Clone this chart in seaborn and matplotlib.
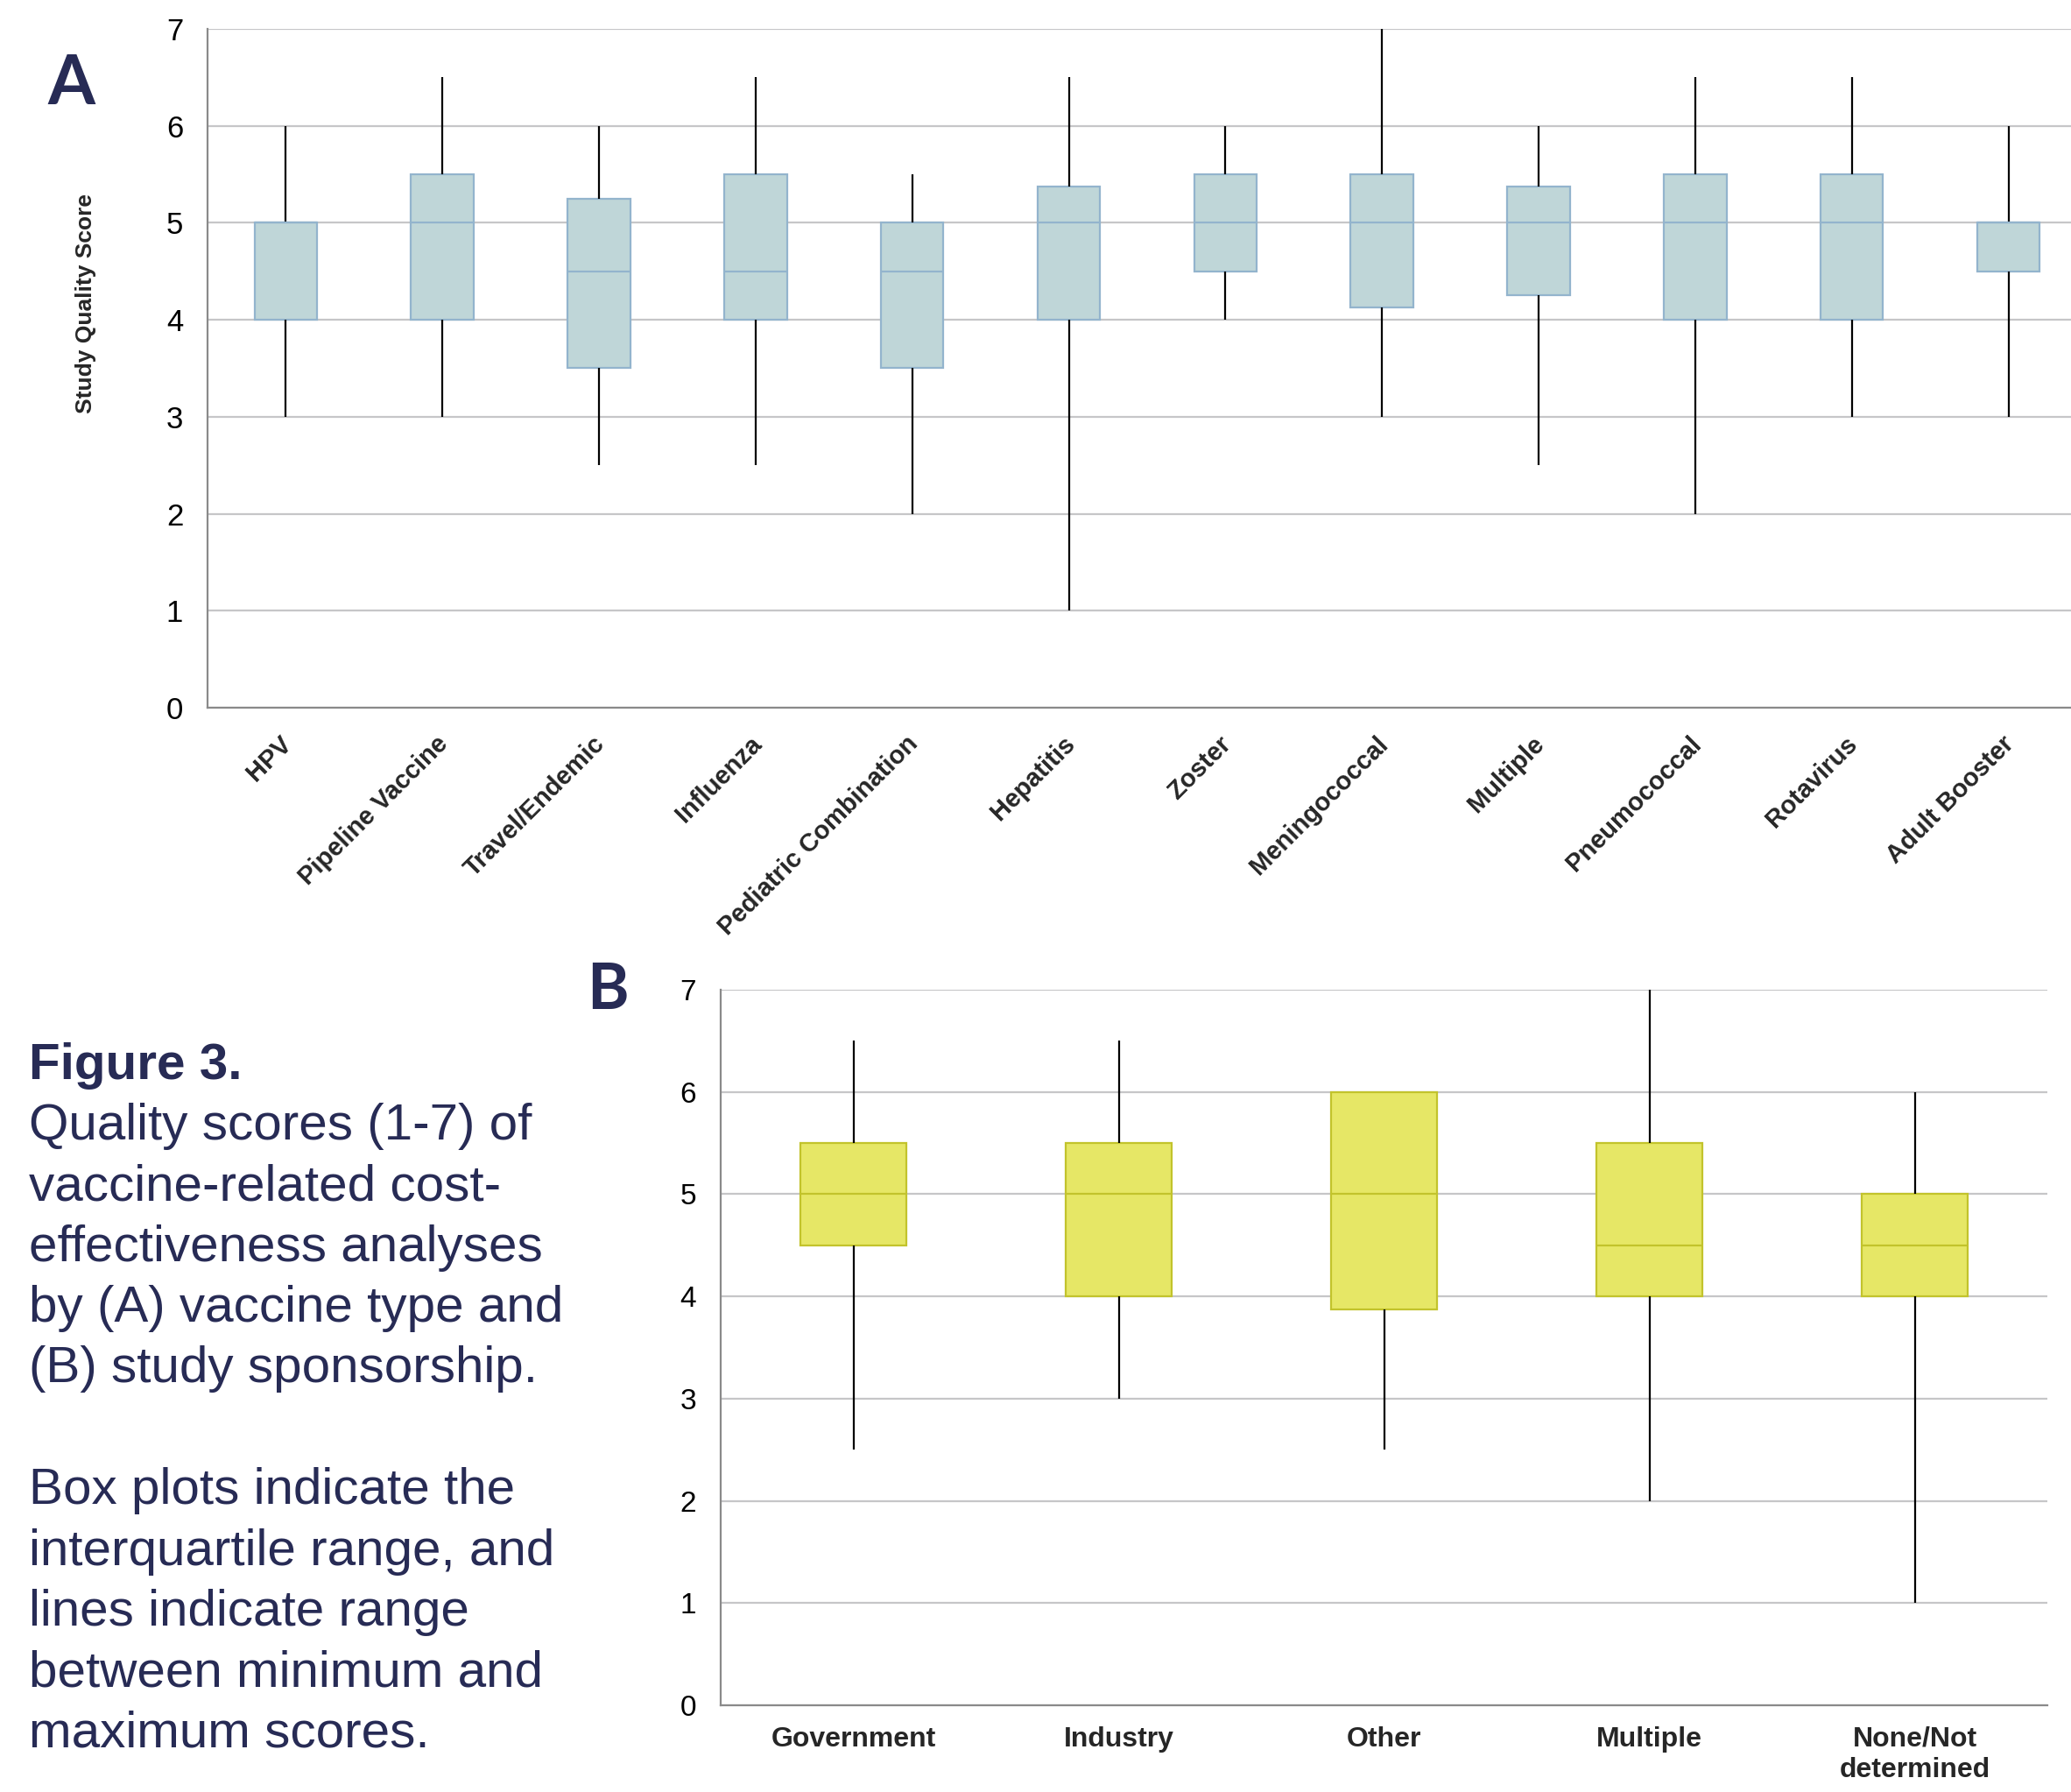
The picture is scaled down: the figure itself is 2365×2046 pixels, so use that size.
import numpy as np
import pandas as pd
import seaborn as sns
import matplotlib.pyplot as plt
from matplotlib.transforms import ScaledTranslation

# Panel A: quality score by vaccine type (min, q1, median, q3, max)
vaccine_types = ['HPV', 'Pipeline Vaccine', 'Travel/Endemic', 'Influenza',
                 'Pediatric Combination', 'Hepatitis', 'Zoster', 'Meningococcal',
                 'Multiple', 'Pneumococcal', 'Rotavirus', 'Adult Booster']
a_min = [3, 3, 2.5, 2.5, 2, 1, 4, 3, 2.5, 2, 3, 3]
a_q1 = [4, 4, 3.5, 4, 3.5, 4, 4.5, 4.125, 4.25, 4, 4, 4.5]
a_med = [5, 5, 4.5, 4.5, 4.5, 5, 5, 5, 5, 5, 5, 5]
a_q3 = [5, 5.5, 5.25, 5.5, 5, 5.375, 5.5, 5.5, 5.375, 5.5, 5.5, 5]
a_max = [6, 6.5, 6, 6.5, 5.5, 6.5, 6, 7, 6, 6.5, 6.5, 6]

# Panel B: quality score by study sponsorship
sponsors = ['Government', 'Industry', 'Other', 'Multiple', 'None/Not\ndetermined']
b_min = [2.5, 3, 2.5, 2, 1]
b_q1 = [4.5, 4, 3.875, 4, 4]
b_med = [5, 5, 5, 4.5, 4.5]
b_q3 = [5.5, 5.5, 6, 5.5, 5]
b_max = [6.5, 6.5, 6, 7, 6]

NAVY = '#272b55'
GRID = '#c6c6c8'
SPINE = '#8a8a8a'


def five_number_frame(cats, mins, q1s, meds, q3s, maxs):
    # five values per group -> linear percentiles hit q1/median/q3 exactly
    rows = []
    for c, a, b, m, d, e in zip(cats, mins, q1s, meds, q3s, maxs):
        for v in (a, b, m, d, e):
            rows.append({'cat': c, 'score': v})
    return pd.DataFrame(rows)


def style_axis(ax, n, ticksize):
    ax.set_xlim(-0.5, n - 0.5)
    ax.set_ylim(0, 7)
    ax.set_yticks(range(0, 8))
    ax.yaxis.grid(True, color=GRID, linewidth=1.6)
    ax.xaxis.grid(False)
    ax.set_axisbelow(True)
    for s in ['top', 'right']:
        ax.spines[s].set_visible(False)
    for s in ['left', 'bottom']:
        ax.spines[s].set_color(SPINE)
        ax.spines[s].set_linewidth(1.6)
    ax.set_xticks(np.arange(-0.5, n, 1), minor=True)
    ax.tick_params(axis='x', which='major', length=0)
    ax.tick_params(axis='x', which='minor', length=7, width=1.6, color=SPINE)
    ax.tick_params(axis='y', length=6, width=1.6, color=SPINE, pad=14,
                   labelsize=ticksize, labelcolor='black')
    ax.set_xlabel('')


sns.set_style('white')
plt.rcParams['font.family'] = ['Liberation Sans', 'DejaVu Sans']

fig = plt.figure(figsize=(23.65, 20.46), dpi=100)

# ---- Panel A ----
df_a = five_number_frame(vaccine_types, a_min, a_q1, a_med, a_q3, a_max)
ax_a = fig.add_axes([0.1002, 0.6051, 0.9074, 0.3788])
sns.boxplot(data=df_a, x='cat', y='score', order=vaccine_types, ax=ax_a,
            color='#bfd6d8', linecolor='#93b4cd', saturation=1, width=0.4,
            linewidth=1.6, whis=(0, 100), showcaps=False, showfliers=False,
            whiskerprops={'color': 'black', 'linewidth': 1.6})
style_axis(ax_a, len(vaccine_types), 25)
ax_a.set_xticks(range(len(vaccine_types)))
ax_a.set_xticklabels(vaccine_types, rotation=45, ha='right',
                     rotation_mode='anchor', fontsize=21, fontweight='bold')
ax_a.tick_params(axis='x', which='major', pad=14)
shift = ScaledTranslation(-5.5 / 72, -5.5 / 72, fig.dpi_scale_trans)
for lab in ax_a.get_xticklabels():
    lab.set_transform(lab.get_transform() + shift)
ax_a.set_ylabel('Study Quality Score', fontsize=19, fontweight='bold',
                va='center')
ax_a.yaxis.set_label_coords(-0.0648, 0.595)

# ---- Panel B ----
df_b = five_number_frame(sponsors, b_min, b_q1, b_med, b_q3, b_max)
ax_b = fig.add_axes([0.348, 0.0484, 0.6406, 0.3993])
sns.boxplot(data=df_b, x='cat', y='score', order=sponsors, ax=ax_b,
            color='#e6e766', linecolor='#c2c32c', saturation=1, width=0.4,
            linewidth=1.6, whis=(0, 100), showcaps=False, showfliers=False,
            whiskerprops={'color': 'black', 'linewidth': 1.6})
style_axis(ax_b, len(sponsors), 24)
ax_b.set_xticks(range(len(sponsors)))
ax_b.set_xticklabels(sponsors, fontsize=23, fontweight='bold', linespacing=1.25)
ax_b.tick_params(axis='x', which='major', pad=17)
ax_b.set_ylabel('')

# panel letters
fig.text(81 / 2365, 1 - 97 / 2046, 'A', fontsize=56, fontweight='bold',
         color=NAVY, ha='center', va='center', family=['Lato', 'DejaVu Sans'])
fig.text(694 / 2365, 1 - 1132 / 2046, 'B', fontsize=52, fontweight='bold',
         color=NAVY, ha='center', va='center', family=['Lato', 'DejaVu Sans'])

# caption
fig.text(33 / 2365, 1 - 1190 / 2046, 'Figure 3.', fontsize=42,
         fontweight='bold', color=NAVY, ha='left', va='top')
caption = ('Quality scores (1-7) of\n'
           'vaccine-related cost-\n'
           'effectiveness analyses\n'
           'by (A) vaccine type and\n'
           '(B) study sponsorship.\n'
           '\n'
           'Box plots indicate the\n'
           'interquartile range, and\n'
           'lines indicate range\n'
           'between minimum and\n'
           'maximum scores.')
fig.text(33 / 2365, 1 - 1259 / 2046, caption, fontsize=42, color=NAVY,
         ha='left', va='top', linespacing=1.366)

fig.savefig('out.png', dpi=100)
plt.close(fig)
